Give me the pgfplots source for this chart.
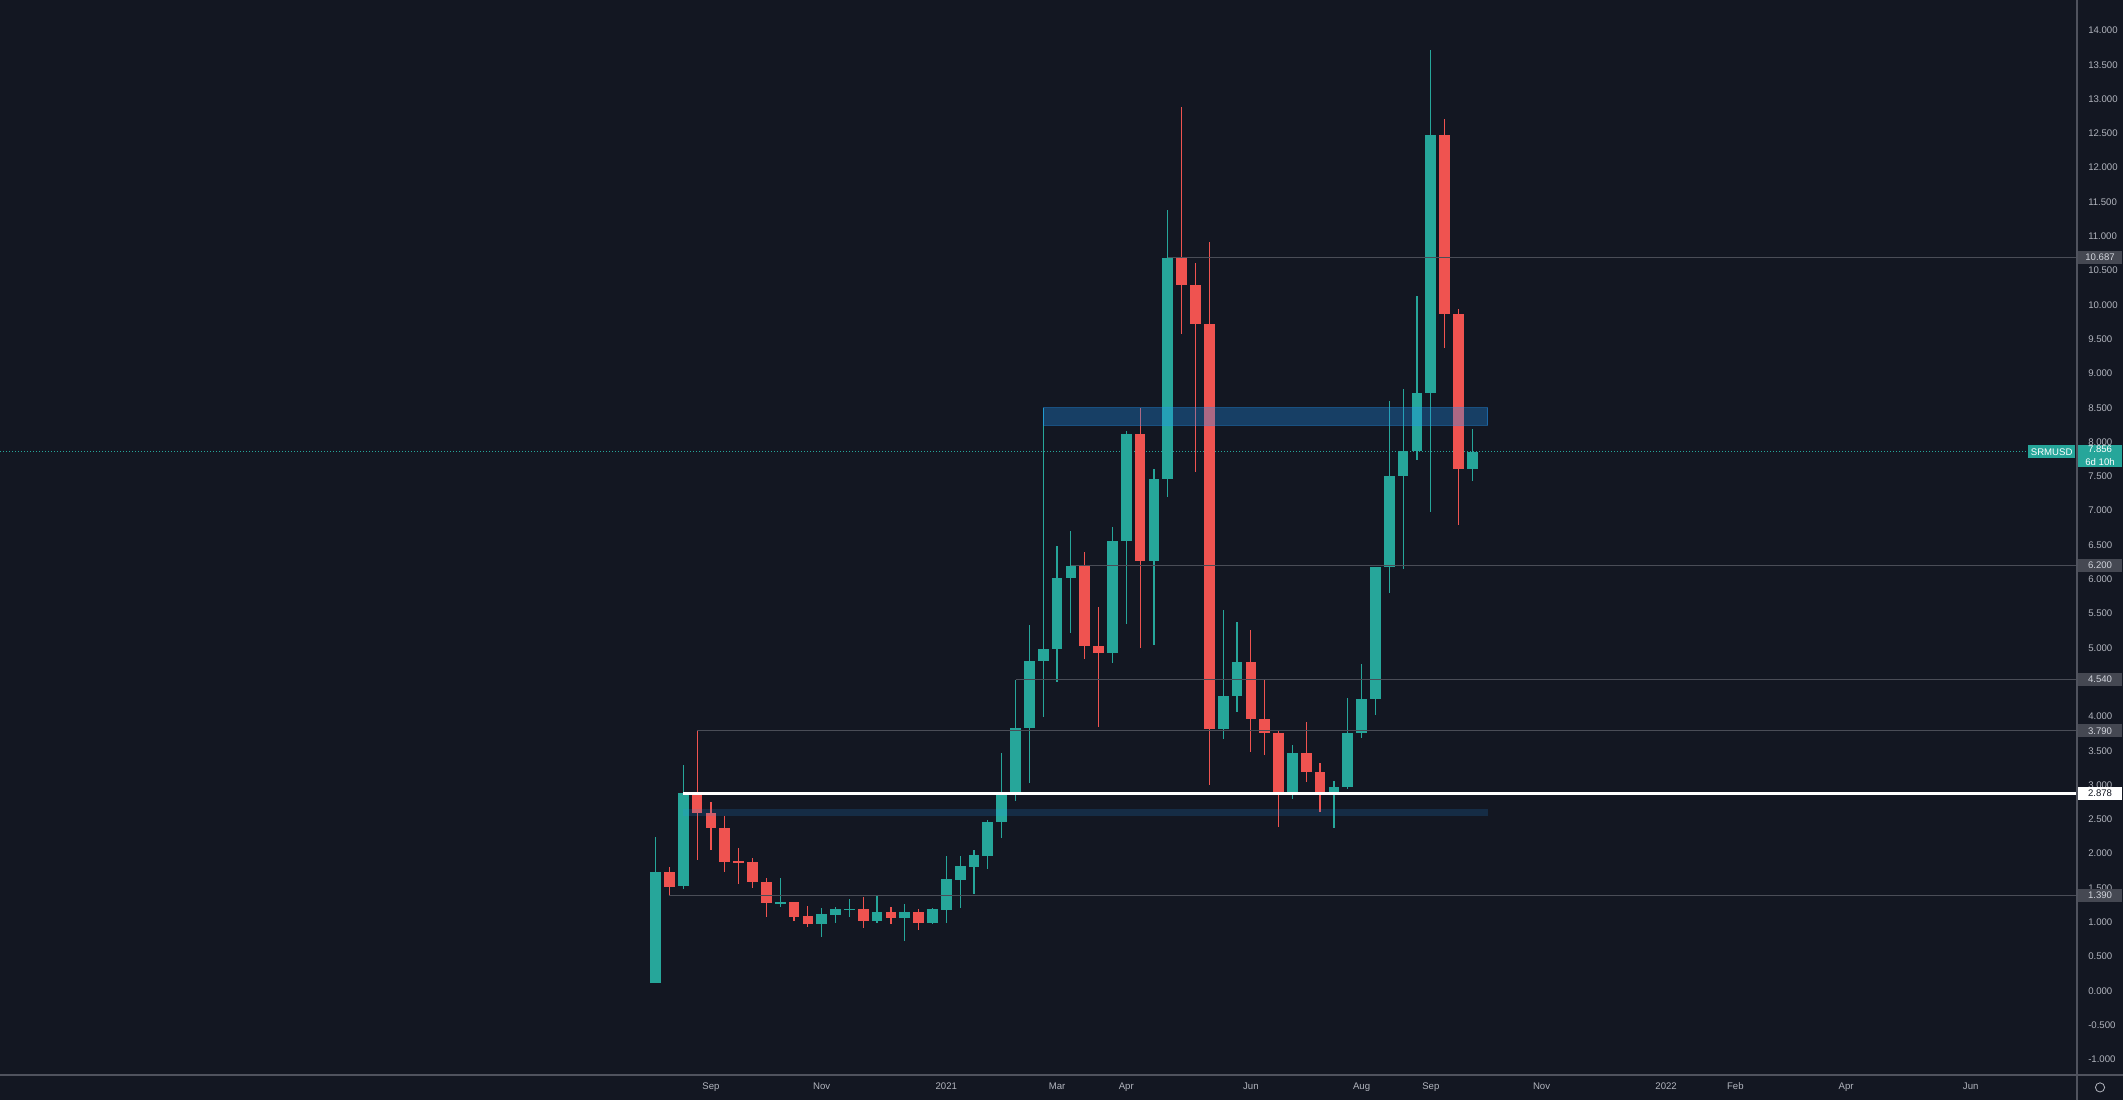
\documentclass[border=0pt]{standalone}
\usepackage{fontspec}
\setmainfont{Liberation Sans}
\usepackage{pgfplots}
\usepackage{pgfplotstable}
\pgfplotsset{compat=1.18}

\definecolor{bg}{HTML}{131722}
\definecolor{upc}{HTML}{26A69A}
\definecolor{dnc}{HTML}{EF5350}
\definecolor{txt}{HTML}{B2B5BE}
\definecolor{hline}{HTML}{4A4D57}
\definecolor{axln}{HTML}{50535E}
\definecolor{tagc}{HTML}{454852}
\definecolor{tagtxt}{HTML}{D1D4DC}
\definecolor{boxblue}{HTML}{2196F3}

\newcommand{\lbl}{\fontsize{4.8}{5.8}\selectfont}

% weekly candles, w = weeks after 4 Jan 2021
\pgfplotstableread{
w   o     h      l     c
-21 0.11  2.24   0.11  1.73
-19 1.52  3.29   1.49  2.88
-12 1.277 1.649  1.226 1.289
-9  0.973 1.202  0.779 1.114
-8  1.105 1.226  0.983 1.187
-7  1.185 1.338  1.07  1.192
-5  1.022 1.396  0.993 1.153
-3  1.056 1.265  0.730 1.143
-1  0.993 1.202  0.973 1.187
0   1.177 1.965  0.993 1.624
1   1.615 1.965  1.202 1.819
2   1.809 2.052  1.411 1.974
3   1.969 2.489  1.770 2.455
4   2.455 3.461  2.222 2.862
5   2.862 4.534  2.766 3.826
6   3.826 5.326  3.029 4.813
7   4.813 8.49   3.988 4.981
8   4.981 6.481  4.506 6.012
9   6.012 6.698  5.220 6.191
12  4.921 6.757  4.783 6.551
13  6.551 8.153  5.347 8.119
15  6.262 7.603  5.038 7.465
16  7.465 11.386 7.204 10.677
20  3.820 5.553  3.669 4.302
21  4.302 5.381  4.061 4.797
25  2.854 3.583  2.79  3.461
28  2.888 3.063  2.378 2.966
29  2.966 4.274  2.936 3.762
30  3.762 4.762  3.683 4.252
31  4.252 6.184  4.017 6.170
32  6.170 8.602  5.802 7.499
33  7.499 8.778  6.148 7.867
34  7.867 10.13  7.742 8.719
35  8.719 13.708 6.985 12.481
38  7.610 8.190  7.433 7.856
}\upT

\pgfplotstableread{
w   o      h      l     c
-20 1.731  1.799  1.386 1.518
-18 2.878  3.791  1.906 2.586
-17 2.586  2.747  2.052 2.368
-16 2.368  2.548  1.736 1.882
-15 1.882  2.086  1.556 1.872
-14 1.872  1.93   1.493 1.581
-13 1.581  1.639  1.070 1.275
-11 1.299  1.30   1.022 1.080
-10 1.088  1.236  0.925 0.973
-6  1.187  1.362  0.910 1.022
-4  1.153  1.226  0.973 1.056
-2  1.143  1.187  0.886 0.993
10  6.191  6.403  4.841 5.025
11  5.025  5.594  3.848 4.925
14  8.119  8.497  5.003 6.262
17  10.677 12.885 9.577 10.285
18  10.285 10.608 7.555 9.721
19  9.721  10.918 2.995 3.820
22  4.797  5.265  3.476 3.958
23  3.958  4.542  3.442 3.751
24  3.751  3.78   2.392 2.854
26  3.461  3.923  3.038 3.184
27  3.184  3.315  2.611 2.888
36  12.481 12.702 9.366 9.866
37  9.866  9.932  6.794 7.610
}\dnT

\begin{document}
\begin{tikzpicture}
\path[use as bounding box, fill=bg] (0,0) rectangle (1061.5pt,550pt);
\begin{axis}[
  at={(0pt,12.5pt)}, anchor=south west,
  width=1038.5pt, height=537.5pt, scale only axis,
  xmin=-68.36, xmax=81.67, ymin=-1.228, ymax=14.442,
  axis line style={draw=none}, major tick length=0pt, tick style={draw=none},
  ytick={-1,-0.5,...,14}, yticklabel pos=right,
  yticklabel style={anchor=base west, inner sep=0pt, xshift=5.5pt, yshift=-1.7pt,
                    font=\lbl, text=txt},
  xtick={-17,-9,0,8,13,22,30,35,43,52,57,65,74},
  xticklabels={Sep,Nov,2021,Mar,Apr,Jun,Aug,Sep,Nov,2022,Feb,Apr,Jun},
  xticklabel style={anchor=base, inner sep=0pt, yshift=-7.2pt, font=\lbl, text=txt},
  /pgf/number format/fixed, /pgf/number format/fixed zerofill,
  /pgf/number format/precision=3, /pgf/number format/assume math mode=true,
  candle/.style={draw=none, mark=none, forget plot,
    error bars/.cd, y dir=both, y explicit, error mark=none},
]
% current price, dotted
\addplot[upc, line width=0.5pt, dash pattern=on 0.5pt off 1pt] coordinates {(-68.36,7.856)(81.67,7.856)};

% wicks
\addplot[candle, error bar style={draw=upc, line width=0.6pt}]
  table[x=w, y expr={(\thisrow{h}+\thisrow{l})/2}, y error expr={(\thisrow{h}-\thisrow{l})/2}] \upT;
\addplot[candle, error bar style={draw=dnc, line width=0.6pt}]
  table[x=w, y expr={(\thisrow{h}+\thisrow{l})/2}, y error expr={(\thisrow{h}-\thisrow{l})/2}] \dnT;
% bodies
\addplot[candle, error bar style={draw=upc, line width=5.35pt}]
  table[x=w, y expr={(\thisrow{o}+\thisrow{c})/2}, y error expr={max(abs(\thisrow{c}-\thisrow{o})/2,0.008)}] \upT;
\addplot[candle, error bar style={draw=dnc, line width=5.35pt}]
  table[x=w, y expr={(\thisrow{o}+\thisrow{c})/2}, y error expr={max(abs(\thisrow{c}-\thisrow{o})/2,0.008)}] \dnT;

% zones
\addplot[fill=boxblue, fill opacity=0.32, draw=boxblue, draw opacity=0.45, line width=0.5pt]
  coordinates {(7,8.24)(39.13,8.24)(39.13,8.50)(7,8.50)} -- cycle;
\addplot[fill=boxblue, fill opacity=0.17, draw=none]
  coordinates {(-19,2.55)(39.13,2.55)(39.13,2.645)(-19,2.645)} -- cycle;

% horizontal levels
\addplot[hline, line width=0.55pt] coordinates {(16,10.687)(81.67,10.687)};
\addplot[hline, line width=0.55pt] coordinates {(9,6.2)(81.67,6.2)};
\addplot[hline, line width=0.55pt] coordinates {(5,4.54)(81.67,4.54)};
\addplot[hline, line width=0.55pt] coordinates {(-18,3.79)(81.67,3.79)};
\addplot[hline, line width=0.55pt] coordinates {(-20,1.39)(81.67,1.39)};
\addplot[white, line width=1.2pt] coordinates {(-19,2.878)(81.67,2.878)};

\coordinate (T1) at (axis cs:81.67,10.687);
\coordinate (T2) at (axis cs:81.67,6.2);
\coordinate (T3) at (axis cs:81.67,4.54);
\coordinate (T4) at (axis cs:81.67,3.79);
\coordinate (T5) at (axis cs:81.67,1.39);
\coordinate (T6) at (axis cs:81.67,2.878);
\coordinate (T7) at (axis cs:81.67,7.856);
\end{axis}

% axis separators
\draw[axln, line width=0.6pt] (1038.5pt,0pt) -- (1038.5pt,550pt);
\draw[axln, line width=0.6pt] (0pt,12.5pt) -- (1061.5pt,12.5pt);

% price tags
\tikzset{tag/.style={fill=tagc, text=tagtxt, font=\lbl, inner sep=0pt,
  minimum height=6.6pt, minimum width=22pt, anchor=west}}
\node[tag] at ([xshift=0.4pt]T1) {10.687};
\node[tag] at ([xshift=0.4pt]T2) {6.200};
\node[tag] at ([xshift=0.4pt]T3) {4.540};
\node[tag] at ([xshift=0.4pt]T4) {3.790};
\node[tag] at ([xshift=0.4pt]T5) {1.390};
\node[tag, fill=white, text=bg] at ([xshift=0.4pt]T6) {2.878};
\node[fill=upc, text=white, font=\fontsize{4.8}{6.4}\selectfont, inner xsep=0pt, inner ysep=0.6pt,
  minimum width=22pt, align=center, anchor=north west] at ([xshift=0.4pt, yshift=3.6pt]T7) {7.856\\6d 10h};
\node[fill=upc, text=white, font=\lbl, inner xsep=1.5pt, inner ysep=0pt, minimum height=6.6pt,
  anchor=east] at ([xshift=-0.5pt]T7) {SRMUSD};

% settings gear
\draw[txt, line width=0.4pt] (1050pt,6.3pt) circle (2.3pt);
\end{tikzpicture}
\end{document}
